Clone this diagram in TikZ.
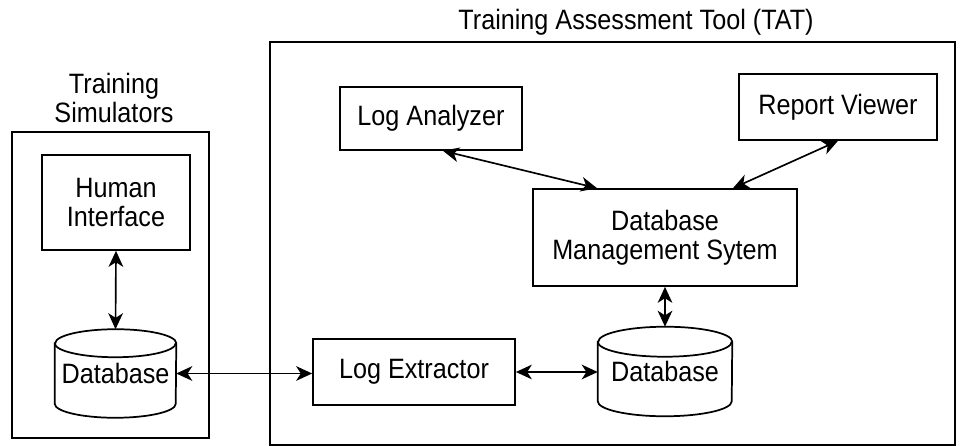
\documentclass[tikz,border=0pt]{standalone}
\usepackage{fontspec}
\setmainfont{Liberation Sans}[FakeStretch=0.9]
\usetikzlibrary{arrows.meta,calc}
\newcommand\mydbcyl[3]{% node name, x radius, y radius
  \draw[cylline] ($(#1.north west)+(0,-#3)$) -- ($(#1.south west)+(0,#3)$)
    arc[start angle=180,end angle=360,x radius=#2,y radius=#3]
    -- ($(#1.north east)+(0,-#3)$)
    arc[start angle=0,end angle=180,x radius=#2,y radius=#3] -- cycle;
  \draw[cylline] ($(#1.north west)+(0,-#3)$)
    arc[start angle=180,end angle=360,x radius=#2,y radius=#3];
}
\begin{document}
\begin{tikzpicture}[x=0.75pt,y=0.75pt,
  every node/.style={font=\fontsize{21}{21.75}\selectfont, inner sep=0pt, align=center},
  box/.style={draw, line width=1.3pt, rectangle},
  frame/.style={draw, line width=1.3pt, rectangle},
  cylline/.style={line width=1.3pt},
  >={Stealth[length=12pt,width=11pt,inset=3.5pt]},
  conn/.style={<->, line width=1.25pt}
]
\useasboundingbox (0,0) rectangle (960,446);

% outer frames
\node[frame, minimum width=147.75pt, minimum height=229.5pt] (ts) at (110.5,161) {};
\node (tslabel) at (114,348) {Training\\Simulators};
\node[frame, minimum width=513.75pt, minimum height=302.25pt] (tat) at (612.5,202.5) {};
\node (tatlabel) at (636,424) {Training Assessment Tool (TAT)};

% simulator side
\node[box, minimum width=111pt, minimum height=71.25pt] (hi) at (116,243.5) {Human\\Interface};
\node[minimum width=90.75pt, minimum height=66pt] (db1) at (115.5,72.5) {Database};
\mydbcyl{db1}{45.375pt}{10.5pt}

% TAT side
\node[box, minimum width=136.5pt, minimum height=47.25pt] (la) at (431,327.5) {Log Analyzer};
\node[box, minimum width=148.5pt, minimum height=49.5pt] (rv) at (838,339) {Report Viewer};
\node[box, minimum width=198pt, minimum height=72.75pt] (dbms) at (665,208.5) {Database\\Management Sytem};
\node[box, minimum width=151.5pt, minimum height=49.5pt] (le) at (414,74) {Log Extractor};
\node[minimum width=100.5pt, minimum height=66.75pt] (db2) at (665,74.5) {Database};
\mydbcyl{db2}{50.25pt}{11.25pt}

% connectors
\draw[conn] (hi.south) -- (db1.north);
\draw[conn] (db1.east) -- (db1.east -| le.west);
\draw[conn] (le.east) -- (le.east -| db2.west);
\draw[conn] (dbms.south) -- (db2.north);
\draw[conn] ([xshift=9pt]la.south) -- ([xshift=-51pt]dbms.north);
\draw[conn] (rv.south) -- ([xshift=51pt]dbms.north);
\end{tikzpicture}
\end{document}
